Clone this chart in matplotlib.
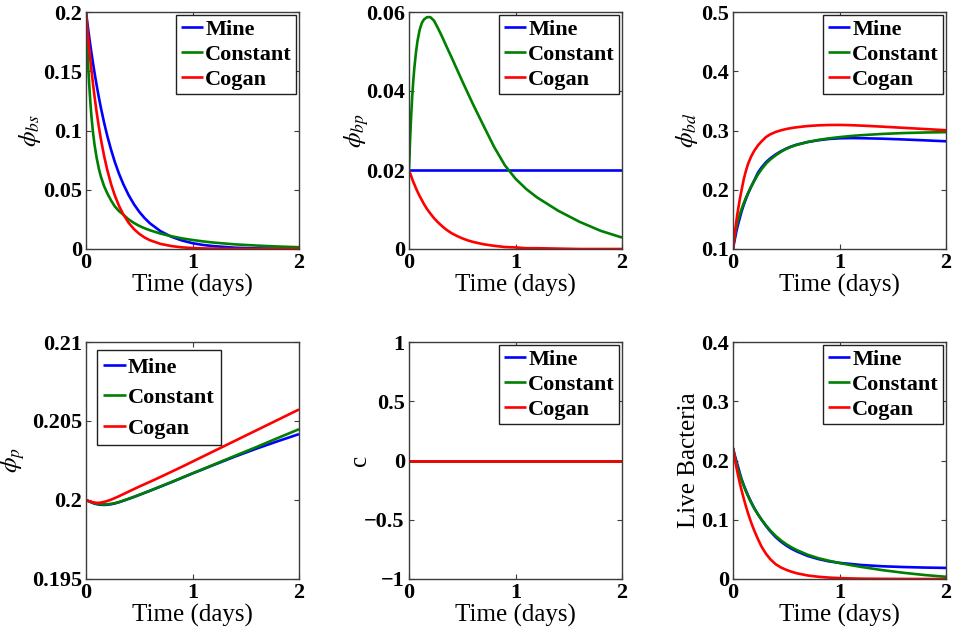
import matplotlib
matplotlib.use("Agg")
import matplotlib.pyplot as plt

plt.rcParams['font.family'] = ['Liberation Serif', 'DejaVu Serif']
plt.rcParams['mathtext.fontset'] = 'stix'

# ---------------- data ----------------
t = [0, 0.01, 0.02, 0.03, 0.04, 0.05, 0.065, 0.08, 0.1, 0.12, 0.14, 0.17, 0.2,
     0.235, 0.27, 0.31, 0.35, 0.4, 0.45, 0.5, 0.55, 0.6, 0.7, 0.8, 0.9, 1.0,
     1.1, 1.2, 1.4, 1.6, 1.8, 2.0]

series_names = ["Mine", "Constant", "Cogan"]
series_colors = ["#0000ff", "#008000", "#ff0000"]

# phi_bs
bs_mine = [0.200, 0.1927, 0.1857, 0.1789, 0.1724, 0.1662, 0.1572, 0.1488, 0.1382, 0.1283,
           0.1191, 0.1066, 0.0954, 0.0839, 0.0736, 0.0635, 0.0548, 0.0455, 0.0378, 0.0314,
           0.0261, 0.0217, 0.0150, 0.0104, 0.0072, 0.0049, 0.0034, 0.0024, 0.0011, 0.0005,
           0.0003, 0.0001]
bs_const = [0.200, 0.175, 0.155, 0.139, 0.125, 0.113, 0.099, 0.088, 0.077, 0.068,
            0.061, 0.053, 0.047, 0.041, 0.036, 0.032, 0.029, 0.025, 0.022, 0.0195,
            0.0175, 0.0158, 0.0130, 0.0108, 0.0090, 0.0076, 0.0064, 0.0054, 0.0039, 0.0029,
            0.0021, 0.0015]
bs_cogan = [0.200, 0.1893, 0.1791, 0.1696, 0.1605, 0.1519, 0.1399, 0.1288, 0.1154, 0.1034,
            0.0926, 0.0785, 0.0666, 0.0549, 0.0453, 0.0364, 0.0292, 0.0222, 0.0168, 0.0128,
            0.0097, 0.0074, 0.0043, 0.0025, 0.0014, 0.0008, 0.0005, 0.0003, 0.0001, 0.0,
            0.0, 0.0]

# phi_bp
bp_mine = [0.02] * 32
bp_const = [0.0200, 0.0275, 0.0335, 0.0385, 0.0425, 0.0458, 0.0497, 0.0527, 0.0555, 0.0572,
            0.0581, 0.0587, 0.0587, 0.0578, 0.0560, 0.0538, 0.0514, 0.0485, 0.0455, 0.0425,
            0.0396, 0.0367, 0.0312, 0.0258, 0.0212, 0.0178, 0.0152, 0.0131, 0.0097, 0.0069,
            0.0046, 0.0029]
bp_cogan = [0.0200, 0.0192, 0.0185, 0.0177, 0.0170, 0.0164, 0.0154, 0.0145, 0.0134, 0.0124,
            0.0114, 0.0101, 0.0090, 0.0078, 0.0068, 0.0058, 0.0049, 0.0040, 0.0033, 0.0027,
            0.0022, 0.0018, 0.0012, 0.0008, 0.0005, 0.0004, 0.0002, 0.0002, 0.0001, 0.0,
            0.0, 0.0]

# phi_bd
bd_mine = [0.100, 0.110, 0.119, 0.128, 0.136, 0.143, 0.153, 0.163, 0.174, 0.184,
           0.193, 0.205, 0.216, 0.229, 0.238, 0.2465, 0.253, 0.2595, 0.265, 0.2695,
           0.2732, 0.2762, 0.2805, 0.2835, 0.2857, 0.2868, 0.2872, 0.2870, 0.2862, 0.2849,
           0.2834, 0.2818]
bd_const = [0.100, 0.115, 0.126, 0.135, 0.143, 0.150, 0.159, 0.167, 0.177, 0.186,
            0.194, 0.205, 0.215, 0.226, 0.235, 0.244, 0.251, 0.258, 0.264, 0.269,
            0.2728, 0.2758, 0.2805, 0.2840, 0.2867, 0.2888, 0.2906, 0.2920, 0.2942, 0.2957,
            0.2966, 0.2972]
bd_cogan = [0.100, 0.116, 0.131, 0.145, 0.158, 0.169, 0.185, 0.199, 0.217, 0.231,
            0.243, 0.256, 0.266, 0.275, 0.282, 0.289, 0.2935, 0.2975, 0.3003, 0.3025,
            0.3042, 0.3055, 0.3075, 0.3087, 0.3093, 0.3094, 0.3090, 0.3083, 0.3065, 0.3045,
            0.3025, 0.3005]

# phi_p
p_mine = [0.20000, 0.19997, 0.19994, 0.19991, 0.19988, 0.19985, 0.19981, 0.19977, 0.19974,
          0.19971, 0.19970, 0.19969, 0.19970, 0.19973, 0.19978, 0.19986, 0.19995, 0.20007,
          0.20019, 0.20032, 0.20045, 0.20058, 0.20085, 0.20112, 0.20140, 0.20168, 0.20195,
          0.20222, 0.20275, 0.20325, 0.20372, 0.20417]
p_const = [0.20000, 0.19997, 0.19994, 0.19991, 0.19989, 0.19986, 0.19982, 0.19979, 0.19976,
           0.19974, 0.19973, 0.19972, 0.19973, 0.19976, 0.19980, 0.19987, 0.19996, 0.20008,
           0.20020, 0.20033, 0.20046, 0.20059, 0.20086, 0.20113, 0.20141, 0.20169, 0.20196,
           0.20224, 0.20280, 0.20335, 0.20392, 0.20448]
p_cogan = [0.20000, 0.19997, 0.19994, 0.19992, 0.19990, 0.19988, 0.19986, 0.19984, 0.19982,
           0.19982, 0.19984, 0.19988, 0.19994, 0.20002, 0.20012, 0.20024, 0.20037, 0.20053,
           0.20069, 0.20085, 0.20100, 0.20115, 0.20146, 0.20178, 0.20210, 0.20243, 0.20276,
           0.20309, 0.20375, 0.20441, 0.20507, 0.20573]

# c
c_mine = [0.0] * 32
c_const = [0.0] * 32
c_cogan = [0.0] * 32

# live bacteria
lb_mine = [0.221, 0.2135, 0.2068, 0.2003, 0.1940, 0.1880, 0.1780, 0.1690, 0.1590, 0.1500,
           0.1415, 0.1300, 0.1195, 0.1090, 0.0995, 0.0895, 0.0805, 0.0708, 0.0630, 0.0565,
           0.0510, 0.0465, 0.0390, 0.0337, 0.0298, 0.0272, 0.0255, 0.0237, 0.0215, 0.0202,
           0.0193, 0.0187]
lb_const = [0.221, 0.2120, 0.2040, 0.1968, 0.1900, 0.1838, 0.1752, 0.1672, 0.1575, 0.1485,
            0.1402, 0.1290, 0.1190, 0.1090, 0.0998, 0.0905, 0.0820, 0.0728, 0.0652, 0.0588,
            0.0533, 0.0487, 0.0410, 0.0352, 0.0308, 0.0270, 0.0236, 0.0205, 0.0150, 0.0105,
            0.0067, 0.0037]
lb_cogan = [0.221, 0.2095, 0.1997, 0.1903, 0.1814, 0.1729, 0.1610, 0.1500, 0.1365, 0.1235,
            0.1115, 0.0955, 0.0815, 0.0670, 0.0540, 0.0425, 0.0335, 0.0250, 0.0195, 0.0155,
            0.0122, 0.0096, 0.0060, 0.0038, 0.0024, 0.0015, 0.0010, 0.0006, 0.0003, 0.0001,
            0.0, 0.0]

x_ticks = [0, 1, 2]
x_ticklabels = ["0", "1", "2"]
x_label = "Time (days)"

y_labels = [r"$\phi_{bs}$", r"$\phi_{bp}$", r"$\phi_{bd}$", r"$\phi_{p}$", "c", "Live Bacteria"]
y_ticks = [
    [0, 0.05, 0.1, 0.15, 0.2],
    [0, 0.02, 0.04, 0.06],
    [0.1, 0.2, 0.3, 0.4, 0.5],
    [0.195, 0.2, 0.205, 0.21],
    [-1, -0.5, 0, 0.5, 1],
    [0, 0.1, 0.2, 0.3, 0.4],
]
y_ticklabels = [
    ["0", "0.05", "0.1", "0.15", "0.2"],
    ["0", "0.02", "0.04", "0.06"],
    ["0.1", "0.2", "0.3", "0.4", "0.5"],
    ["0.195", "0.2", "0.205", "0.21"],
    ["\u22121", "\u22120.5", "0", "0.5", "1"],
    ["0", "0.1", "0.2", "0.3", "0.4"],
]

panels = [
    (bs_mine, bs_const, bs_cogan),
    (bp_mine, bp_const, bp_cogan),
    (bd_mine, bd_const, bd_cogan),
    (p_mine, p_const, p_cogan),
    (c_mine, c_const, c_cogan),
    (lb_mine, lb_const, lb_cogan),
]

# ---------------- layout ----------------
W, H = 955, 632
fig = plt.figure(figsize=(W / 100, H / 100), dpi=100)

col_left = [86, 409, 733]
row_top = [12, 342]
ax_w, ax_h = 213, 237
ylabel_x = [-0.263, -0.244, -0.216, -0.343, -0.23, -0.205]

spine_col = "#3c3c3c"

for i, data in enumerate(panels):
    r, c = divmod(i, 3)
    left = col_left[c] / W
    bottom = 1 - (row_top[r] + ax_h) / H
    ax = fig.add_axes([left, bottom, ax_w / W, ax_h / H])
    for vals, name, col in zip(data, series_names, series_colors):
        ax.plot(t, vals, color=col, lw=1.9, label=name, solid_capstyle='butt',
                solid_joinstyle='round')
    ax.set_xlim(0, 2)
    ax.set_ylim(y_ticks[i][0], y_ticks[i][-1])
    ax.set_xticks(x_ticks)
    ax.set_xticklabels(x_ticklabels)
    ax.set_yticks(y_ticks[i])
    ax.set_yticklabels(y_ticklabels[i])
    ax.tick_params(direction='in', length=3.5, width=0.8, top=True, right=True,
                   labelsize=16, pad=3, color=spine_col)
    for lab in ax.get_xticklabels() + ax.get_yticklabels():
        lab.set_fontweight('bold')
    for sp in ax.spines.values():
        sp.set_color(spine_col)
        sp.set_linewidth(1.0)
    ax.set_xlabel(x_label, fontsize=18)
    ax.xaxis.set_label_coords(0.5, -0.155)
    ax.xaxis.label.set_va('center')
    ax.set_ylabel(y_labels[i], fontsize=18)
    ax.yaxis.set_label_coords(ylabel_x[i], 0.5)
    ax.yaxis.label.set_va('center')

    if i == 3:
        leg = ax.legend(loc='upper left', bbox_to_anchor=(0.05, 0.965),
                        prop={'weight': 'bold', 'size': 16}, handlelength=1.0,
                        handletextpad=0.1, labelspacing=0.45, borderpad=0.3,
                        borderaxespad=0.0, fancybox=False, framealpha=1)
    else:
        leg = ax.legend(loc='upper right', prop={'weight': 'bold', 'size': 16},
                        handlelength=1.0, handletextpad=0.1, labelspacing=0.2,
                        borderpad=0.2, borderaxespad=0.12, fancybox=False, framealpha=1)
    leg.get_frame().set_edgecolor('#202020')
    leg.get_frame().set_linewidth(1.0)

fig.savefig("out.png", dpi=100)
